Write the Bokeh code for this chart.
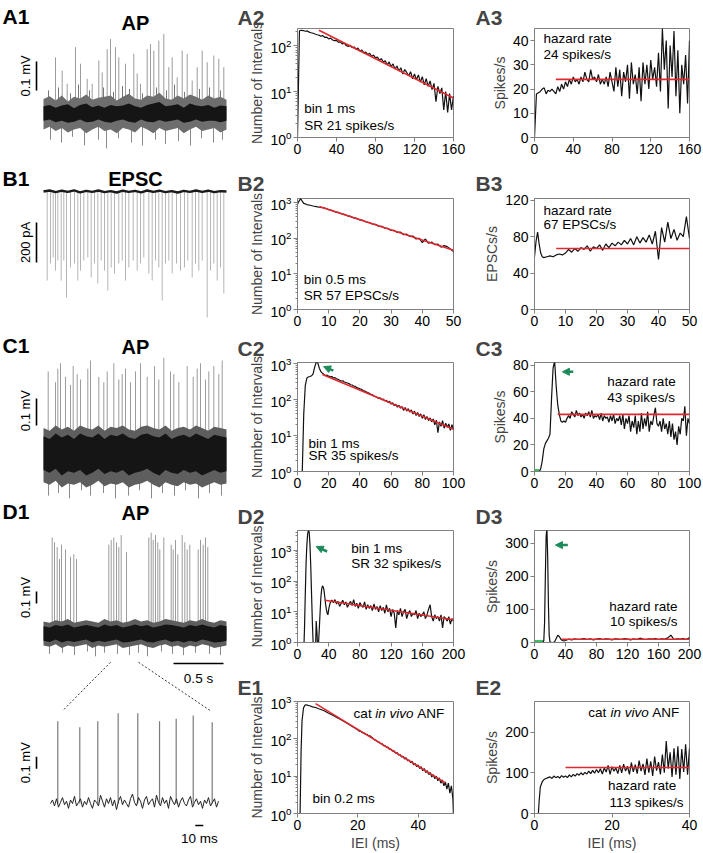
import numpy as np
from bokeh.plotting import figure
from bokeh.layouts import row, column
from bokeh.models import Range1d, Label, Arrow, NormalHead, FixedTicker
from bokeh.embed import file_html
from bokeh.resources import INLINE

FONT = "Liberation Sans"
INK = "#111111"
AXIS_GRAY = "#808080"
RED = "#e0282e"
GREEN = "#1d8a5b"
LIGHT_GREEN = "#3cc062"
SPIKE_GRAY = "#9c9c9c"

# ====================== DATA ======================
# --- A1 (AP trace, time s, mV) ---
A1_SPIKE_T = [0.12,0.187,0.237,0.32,0.37,0.437,0.487,0.553,0.587,0.637,0.67,0.72,0.753,0.82,0.903,0.937,0.97,1.037,1.07,1.103,1.153,1.203,1.253,1.287,1.337,1.387,1.437,1.487,1.537,1.587,1.637,1.703,1.753,1.803]
A1_SPIKE_V = [0.194,0.148,0.103,0.229,0.172,0.12,0.103,0.183,0.142,0.222,0.257,0.229,0.194,0.172,0.206,0.138,0.103,0.222,0.24,0.217,0.252,0.275,0.16,0.194,0.125,0.217,0.206,0.114,0.16,0.217,0.177,0.2,0.189,0.16]
A1_SMALL_T = [0.05,0.15,0.27,0.35,0.46,0.6,0.7,0.79,0.86,0.99,1.13,1.23,1.31,1.41,1.56,1.66,1.77]
A1_SMALL_V = [0.08,0.09,0.07,0.1,0.08,0.09,0.075,0.095,0.085,0.07,0.09,0.08,0.1,0.075,0.085,0.09,0.08]
A1_DOWN_T = [0.07,0.18,0.29,0.41,0.55,0.63,0.75,0.88,0.99,1.12,1.22,1.35,1.47,1.58,1.70,1.79]
A1_DOWN_V = [-0.09,-0.1,-0.08,-0.11,-0.09,-0.12,-0.085,-0.1,-0.11,-0.09,-0.105,-0.095,-0.11,-0.085,-0.1,-0.09]
A1_HI = [0.025,0.03,0.02,0.028,0.032,0.018,0.03,0.035,0.022,0.028,0.02,0.03,0.025,0.028,0.035,0.025,0.02,0.03,0.035,0.04,0.025,0.028,0.032,0.02,0.035,0.028,0.025,0.03,0.02,0.028,0.025]
A1_LO = [-0.025,-0.02,-0.03,-0.025,-0.032,-0.028,-0.02,-0.03,-0.028,-0.02,-0.028,-0.032,-0.025,-0.02,-0.028,-0.032,-0.02,-0.028,-0.03,-0.022,-0.028,-0.025,-0.02,-0.032,-0.028,-0.02,-0.028,-0.025,-0.025,-0.03,-0.025]
A1_OUT_HI = [0.05,0.06,0.045,0.062,0.042,0.058,0.052,0.066,0.048,0.055,0.058,0.062,0.045,0.058,0.068,0.052,0.048,0.062,0.058,0.072,0.052,0.048,0.062,0.052,0.066,0.058,0.048,0.062,0.052,0.058,0.048]
A1_OUT_LO = [-0.055,-0.045,-0.06,-0.05,-0.065,-0.055,-0.05,-0.068,-0.055,-0.045,-0.06,-0.055,-0.068,-0.05,-0.055,-0.065,-0.045,-0.055,-0.068,-0.05,-0.06,-0.055,-0.05,-0.068,-0.055,-0.045,-0.06,-0.055,-0.05,-0.065,-0.055]

# --- B1 (EPSC trace, pA) ---
B1_SPIKE_T = [0.037,0.07,0.097,0.12,0.143,0.177,0.203,0.23,0.27,0.31,0.343,0.37,0.403,0.443,0.477,0.51,0.543,0.577,0.61,0.643,0.677,0.71,0.753,0.787,0.82,0.853,0.897,0.937,0.97,1.003,1.053,1.087,1.12,1.153,1.187,1.22,1.253,1.287,1.33,1.37,1.41,1.443,1.487,1.52,1.553,1.587,1.637,1.67,1.703,1.737,1.77,1.803]
B1_SPIKE_V = [-445,-360,-330,-395,-345,-445,-345,-530,-380,-360,-445,-395,-345,-330,-430,-360,-460,-345,-395,-495,-380,-410,-360,-345,-445,-380,-345,-395,-360,-330,-410,-445,-345,-380,-545,-360,-345,-410,-360,-395,-380,-345,-430,-360,-395,-345,-630,-395,-360,-445,-380,-510]
B1_BASE = [0,5,-3,4,-2,6,-4,3,-2,5,-3,2,-5,4,-2,3,-4,5,-2,4,-3,2,-5,3,-2,5,-2,4,-3,2,0]

# --- C1 (AP trace, mV) ---
C1_SPIKE_T = [0.047,0.12,0.143,0.17,0.22,0.27,0.297,0.337,0.37,0.443,0.47,0.553,0.603,0.637,0.703,0.753,0.787,0.82,0.87,0.92,0.97,1.037,1.11,1.153,1.203,1.27,1.303,1.353,1.437,1.497,1.537,1.57,1.62,1.653,1.703,1.753,1.787]
C1_SPIKE_V = [0.30,0.26,0.31,0.33,0.28,0.25,0.32,0.29,0.27,0.31,0.34,0.28,0.26,0.30,0.33,0.27,0.29,0.31,0.26,0.30,0.33,0.28,0.32,0.27,0.35,0.30,0.29,0.26,0.32,0.28,0.31,0.33,0.27,0.30,0.32,0.29,0.34]
C1_DOWN_T = [0.05,0.15,0.26,0.38,0.47,0.6,0.72,0.85,0.96,1.08,1.19,1.31,1.42,1.55,1.66,1.78]
C1_DOWN_V = [-0.16,-0.15,-0.17,-0.14,-0.16,-0.15,-0.17,-0.16,-0.14,-0.17,-0.15,-0.16,-0.14,-0.17,-0.15,-0.16]
C1_HI = [0.06,0.05,0.07,0.055,0.065,0.05,0.07,0.06,0.055,0.07,0.05,0.065,0.06,0.07,0.055,0.05,0.065,0.07,0.06,0.055,0.07,0.05,0.06,0.065,0.055,0.07,0.06,0.05,0.065,0.06,0.055]
C1_LO = [-0.065,-0.075,-0.06,-0.085,-0.07,-0.075,-0.065,-0.085,-0.075,-0.06,-0.08,-0.07,-0.075,-0.065,-0.085,-0.075,-0.07,-0.06,-0.075,-0.085,-0.065,-0.075,-0.08,-0.065,-0.075,-0.07,-0.085,-0.075,-0.065,-0.075,-0.07]
C1_OUT_HI = [0.09,0.08,0.1,0.085,0.095,0.08,0.1,0.09,0.085,0.1,0.08,0.095,0.09,0.1,0.085,0.08,0.095,0.1,0.09,0.085,0.1,0.08,0.09,0.095,0.085,0.1,0.09,0.08,0.095,0.09,0.085]
C1_OUT_LO = [-0.11,-0.12,-0.105,-0.13,-0.115,-0.12,-0.11,-0.13,-0.12,-0.105,-0.125,-0.115,-0.12,-0.11,-0.13,-0.12,-0.115,-0.105,-0.12,-0.13,-0.11,-0.12,-0.125,-0.11,-0.12,-0.115,-0.13,-0.12,-0.11,-0.12,-0.115]

# --- D1 (AP trace with bursts, mV) ---
D1_SPIKE_T = [0.087,0.11,0.137,0.16,0.18,0.22,0.27,0.303,0.33,
              0.653,0.677,0.703,0.73,0.753,0.777,0.83,
              1.053,1.077,1.097,1.12,1.143,1.163,1.203,1.277,1.297,1.32,1.343,1.387,1.413,1.437,1.463,
              1.547,1.57,1.597,1.62,1.643]
D1_SPIKE_V = [0.80,0.76,0.72,0.62,0.74,0.70,0.64,0.66,0.62,
              0.74,0.78,0.80,0.76,0.72,0.82,0.68,
              0.80,0.84,0.78,0.82,0.76,0.70,0.80,0.74,0.70,0.78,0.66,0.82,0.76,0.70,0.74,
              0.70,0.78,0.74,0.80,0.72]
D1_DOWN_T = [0.06,0.19,0.31,0.44,0.52,0.61,0.74,0.86,0.95,1.04,1.18,1.29,1.40,1.52,1.66,1.77]
D1_DOWN_V = [-0.17,-0.16,-0.18,-0.15,-0.19,-0.16,-0.17,-0.18,-0.16,-0.19,-0.15,-0.17,-0.18,-0.16,-0.17,-0.18]
D1_HI = [0.06,0.05,0.07,0.06,0.075,0.05,0.06,0.07,0.06,0.05,0.075,0.06,0.07,0.05,0.06,0.075,0.06,0.07,0.05,0.06,0.075,0.07,0.06,0.05,0.07,0.06,0.075,0.06,0.05,0.07,0.06]
D1_LO = [-0.06,-0.07,-0.05,-0.075,-0.06,-0.07,-0.06,-0.05,-0.075,-0.06,-0.07,-0.06,-0.05,-0.075,-0.07,-0.06,-0.05,-0.07,-0.075,-0.06,-0.05,-0.07,-0.06,-0.075,-0.06,-0.07,-0.05,-0.06,-0.075,-0.07,-0.06]
D1_OUT_HI = [0.1,0.09,0.11,0.1,0.12,0.09,0.1,0.11,0.1,0.09,0.12,0.1,0.11,0.09,0.1,0.12,0.1,0.11,0.09,0.1,0.12,0.11,0.1,0.09,0.11,0.1,0.12,0.1,0.09,0.11,0.1]
D1_OUT_LO = [-0.1,-0.11,-0.09,-0.12,-0.1,-0.11,-0.1,-0.09,-0.12,-0.1,-0.11,-0.1,-0.09,-0.12,-0.11,-0.1,-0.09,-0.11,-0.12,-0.1,-0.09,-0.11,-0.1,-0.12,-0.1,-0.11,-0.09,-0.1,-0.12,-0.11,-0.1]
ZOOM_WIN_S = [0.67, 0.95]          # stretch of D1 shown expanded below
# expanded trace (ms, mV)
ZOOM_NOISE = [0.00,0.03,-0.02,0.04,-0.03,0.01,0.05,-0.01,0.02,-0.04,
              0.03,0.00,0.06,-0.02,0.01,0.04,-0.03,0.02,-0.01,0.05,
              0.00,-0.04,0.03,0.01,-0.02,0.07,0.02,-0.03,0.04,0.00,
              0.05,-0.02,0.03,-0.05,0.02,0.06,-0.01,0.03,0.00,-0.03,
              0.04,0.08,0.01,-0.02,0.05,0.02,-0.04,0.03,0.06,-0.01,
              0.02,0.04,-0.03,0.07,0.01,-0.02,0.05,0.00,0.03,-0.04,
              0.06,0.02,-0.01,0.04,-0.03,0.02,0.05,0.00,-0.02,0.03,
              0.06,-0.03,0.01,0.04,-0.01,0.02,-0.04,0.03,0.00,0.05,
              -0.02,0.01,0.04,-0.03,0.02]
ZOOM_SPAN_MS = 210
ZOOM_SPIKE_MS = [9.1,36.6,59.1,84.6,109.1,136.3,157.1,178.4,202.1]
ZOOM_SPIKE_V = [0.686,0.636,0.686,0.753,0.753,0.686,0.706,0.733,0.678]

# --- A2: ISI histogram (bin 1 ms) ---
A2_Y = [1,210,215,212,205,208,196,190,185,178,172,168,160,165,150,152,140,145,132,128,130,118,120,108,112,100,95,102,90,93,84,88,76,80,70,72,64,68,58,62,54,56,48,52,44,47,38,44,35,40,31,36,28,33,24,30,26,22,27,19,24,18,23,16,21,14,19,13,17,11,15,6,13,9,12,4,10,3.5,9,4,8]
A2_FIT_X = [22, 160]; A2_FIT_Y = [215, 7.2]
# --- A3: hazard ---
A3_Y = [0,18,18.5,19,20,20.5,18,19.5,19,20,19,18,21,19,22,20,23,21,24,22,25,23,24,22,25,23,27,24,23,28,24,25,23,26,22,24,22,25,21,27,23,19,29,21,28,17,27,23,30,16,31,22,26,18,29,15,31,22,30,20,32,24,29,21,35,19,45,28,40,12,38,25,44,17,36,10,30,22,34,14,40]
A3_RATE = 24; A3_FIT_X = [22, 160]

# --- B2 ---
B2_X = [0,0.5,1,1.5,2,3,4,5,6,7] + list(range(8, 51))
B2_Y = [900,1100,1300,1100,950,880,840,800,770,740,
        720,690,630,605,550,530,485,465,425,410,370,360,325,315,285,275,250,245,215,215,190,188,165,165,145,148,125,130,112,115,95,100,75,95,72,78,66,68,56,62,58,50,42]
B2_FIT_X = [7, 50]; B2_FIT_Y = [770, 46]
# --- B3 ---
B3_X = [0,0.5,1,1.5,2,2.5,3] + list(range(4, 51))
B3_Y = [58,75,85,72,62,58,57,
        58,59,58,60,61,60,62,66,63,67,64,68,66,70,64,69,67,71,65,72,68,73,70,74,71,76,72,78,71,80,73,79,74,82,72,86,55,90,74,96,78,88,76,84,80,102,78]
B3_RATE = 67; B3_FIT_X = [7, 50]

# --- C2 ---
C2_Y = [0.5,0.5,0.5,0.8,40,250,400,430,440,460,520,800,1100,1050,750,600,540,500,470,480,450,430,440,400,410,380,370,345,330,335,310,300,290,280,260,255,240,235,215,210,200,195,180,175,165,158,150,140,138,125,122,
        115,108,112,100,104,92,96,84,90,75,82,68,74,62,70,58,64,50,60,48,56,45,52,40,48,36,44,34,40,30,38,28,34,26,31,24,29,20,27,12,24,18,26,16,22,17,21,14,20,15]
C2_FIT_X = [16, 100]; C2_FIT_Y = [500, 15]
C2_ARROW = [23, 645, 16.7, 830]
# --- C3 ---
C3_Y = [0,0,0,0,2,8,17,21,23,25,28,55,78,83,64,50,43,38,37,38,37,
        40,42,40,45,43,41,46,42,44,41,43,40,44,42,45,41,46,40,42,41,43,39,44,38,42,40,41,37,42,38,43,36,40,38,42,35,43,32,40,36,42,30,38,33,42,28,38,30,44,32,40,34,45,30,38,35,42,48,36,34,38,30,40,32,36,28,38,26,36,24,30,20,34,28,40,38,49,27,40,36]
C3_RATE = 43; C3_FIT_X = [15, 100]
C3_ARROW = [25, 75, 18, 75]
C3_REFRACT = [0, 3]

# --- D2 ---
D2_X = list(range(0, 44)) + list(range(44, 201, 2))
D2_Y = [0.5,0.5,0.5,0.5,0.5,0.5,0.5,0.5,0.5,3,40,400,1500,3500,4500,4000,1500,300,40,5,1,0.5,0.5,0.5,5,2,0.5,1,3,10,30,55,70,65,50,30,18,12,9,8,12,16,20,22,
        24,20,25,18,22,15,19,24,17,21,14,18,22,16,25,15,19,13,20,16,14,21,12,17,13,16,11,18,12,15,10,16,11,14,9,17,10,13,7,12,9,3,11,8,13,7,10,12,6,9,11,7,9,8,11,6,9,7,8,10,6,8,12,17,7,5,8,6,7,5,8,3,7,6,5,7,4,6,5]
D2_FIT_X = [35, 200]; D2_FIT_Y = [24, 5.5]
D2_ARROW = [38, 930, 24, 1350]
# --- D3 ---
D3_X = [0,2,4,6,8,10,11,12,13,14,15,16,17,18,19,20,22,24,26,28,30,32,34,36,38,40] + list(range(44, 201, 4))
D3_Y = [0,0,0,0,0,0,0,5,60,200,320,345,260,110,20,2,0,0,2,12,22,18,10,6,5,6,
        10,8,11,9,10,12,9,11,8,10,12,9,11,10,8,11,10,9,12,10,8,11,9,13,10,9,11,10,12,9,11,10,14,22,9,11,10,12,9,15]
D3_RATE = 10; D3_FIT_X = [35, 200]
D3_ARROW = [43, 294, 27, 294]
D3_REFRACT = [0, 12]

# --- E1 (cat in vivo ANF, bin 0.2 ms) ---
E1_X_HEAD = [0.8,1.2,1.5,2,2.5,3,3.5,4,5,6,7,8,9,10,11,12,13,14,15,16,17,18,19,20]
E1_Y_HEAD = [0.5,50,300,680,800,820,790,770,720,690,640,600,555,500,455,415,375,340,305,275,245,218,195,172]
E1_Y_TAIL = [160,158,146,145,133,132,122,121,112,104,94,92,84,82,74,74,66,66,59,60,52,53,47,48,41,43,37,38,33,34,29,31,26,27,23,25,20,22,18,20,16,18,14,16,12.5,14,11,12.5,9.5,11,8.5,10,7.5,9,6.5,8,5.5,7,4.5,6.5,3.5,5.5,2.5]
E1_FIT_X = [6, 49]; E1_FIT_Y = [875, 6.6]
# --- E2 ---
E2_X_HEAD = [0,0.5,1,1.2,1.5,2]
E2_Y_HEAD = [0,0,0,30,65,78]
E2_Y_TAIL = [84,86,88,90,86,92,88,91,87,93,89,92,88,95,90,96,92,98,94,100,95,101,97,104,98,106,99,108,100,110,97,112,102,118,96,115,104,112,98,118,100,121,104,116,96,125,102,120,98,130,104,122,95,135,100,128,92,140,105,126,96,145,100,178,110,150,90,160,95,165,85,158,102,170,95,160]
E2_RATE = 113; E2_FIT_X = [8, 40]

# ====================== LAYOUT ======================
C1W, C2W, C3W = 230, 240, 233
ROW_H = [165, 167, 168, 170, 183]
ROW_TOP = [28, 32, 29, 29, 30]
ROW_BOT = [28, 23, 29, 28, 40]
TAG_STANDOFF = [0, 8, 5, 5, 6]
C2_LR = (67, 17)
C3_LR = (64, 14)
TR_X = (-0.43, 1.87)


def label(p, x, y, text, size="13.5px", align="left", baseline="middle", style="normal",
          angle=0.0, color="black", **kw):
    p.add_layout(Label(x=x, y=y, text=text, text_font=FONT, text_font_size=size,
                       text_align=align, text_baseline=baseline, text_font_style=style,
                       angle=angle, text_color=color, **kw))


def hist_fig(ri, col, xr, yr, xticks, yticks, log, ylabel, tag, xlabel=None):
    l, r = C2_LR if col == 2 else C3_LR
    w = C2W if col == 2 else C3W
    h, t, b = ROW_H[ri], ROW_TOP[ri], ROW_BOT[ri]
    p = figure(width=w, height=h, x_range=Range1d(*xr), y_range=Range1d(*yr),
               y_axis_type="log" if log else "linear", toolbar_location=None,
               output_backend="svg", min_border_left=l, min_border_right=r,
               min_border_top=t, min_border_bottom=b, title=tag)
    p.title.align = "left"
    p.title.offset = -60 if col == 2 else -59
    p.title.text_font = FONT
    p.title.text_font_size = "21px"
    p.title.text_font_style = "bold"
    p.title.standoff = TAG_STANDOFF[ri]
    p.grid.visible = False
    p.outline_line_color = AXIS_GRAY
    p.xaxis.ticker = FixedTicker(ticks=xticks, minor_ticks=[])
    if log:
        minors = [m * d for d in yticks for m in range(2, 10)]
        p.yaxis.ticker = FixedTicker(ticks=yticks, minor_ticks=minors)
    else:
        p.yaxis.ticker = FixedTicker(ticks=yticks, minor_ticks=[])
    for ax in p.axis:
        ax.axis_line_color = AXIS_GRAY
        ax.major_tick_line_color = AXIS_GRAY
        ax.minor_tick_line_color = AXIS_GRAY
        ax.major_tick_in = 0
        ax.major_tick_out = 4
        ax.minor_tick_in = 0
        ax.minor_tick_out = 2
        ax.major_label_text_font = FONT
        ax.major_label_text_font_size = "14px"
        ax.major_label_text_color = "black"
        ax.major_label_standoff = 2
        ax.axis_label_text_font = FONT
        ax.axis_label_text_font_size = "14px"
        ax.axis_label_text_font_style = "normal"
        ax.axis_label_standoff = 2
    p.yaxis.axis_label = ylabel
    if xlabel:
        p.xaxis.axis_label = xlabel
    return p


def black(p, x, y):
    p.line(x, y, line_color=INK, line_width=1.2)


def red(p, x, y):
    p.line(x, y, line_color=RED, line_width=1.6)


def arrow(p, a):
    p.add_layout(Arrow(x_start=a[0], y_start=a[1], x_end=a[2], y_end=a[3],
                       line_color=GREEN, line_width=2.5,
                       end=NormalHead(size=7, fill_color=GREEN, line_color=GREEN)))


def trace_fig(h, yr):
    p = figure(width=C1W, height=h, x_range=Range1d(*TR_X), y_range=Range1d(*yr),
               x_axis_type=None, y_axis_type=None, toolbar_location=None,
               output_backend="svg", min_border=0)
    p.outline_line_color = None
    return p


def noise_band(p, hi, lo, color):
    t = np.linspace(0, 1.83, len(hi))
    p.varea(x=t, y1=lo, y2=hi, fill_color=color)


def spikes(p, t, v, color=SPIKE_GRAY, width=1.0, **kw):
    p.segment(x0=t, y0=[0] * len(t), x1=t, y1=v, line_color=color, line_width=width, **kw)


def vbar_scale(p, x, y0, length, **kw):
    p.segment(x0=[x], y0=[y0], x1=[x], y1=[y0 + length], line_color="black", line_width=1.6, **kw)


# ---------- column 1 ----------
a1 = trace_fig(ROW_H[0], (-0.179, 0.390))
spikes(a1, A1_SPIKE_T, A1_SPIKE_V)
spikes(a1, A1_SMALL_T, A1_SMALL_V, color="#777777")
spikes(a1, A1_DOWN_T, A1_DOWN_V, color="#8a8a8a")
noise_band(a1, A1_OUT_HI, A1_OUT_LO, "#6e6e6e")
noise_band(a1, A1_HI, A1_LO, "#151515")
vbar_scale(a1, -0.07, 0.08, 0.1)
label(a1, -0.18, 0.13, "0.1 mV", size="13px", align="center", angle=np.pi / 2)
label(a1, -0.41, 0.334, "A1", size="21px", style="bold")
label(a1, 0.92, 0.314, "AP", size="20px", style="bold", align="center")

b1 = trace_fig(ROW_H[1], (-705, 130))
spikes(b1, B1_SPIKE_T, B1_SPIKE_V, color="#b5b5b5")
b1.line(np.linspace(0, 1.83, len(B1_BASE)), B1_BASE, line_color="#1a1a1a", line_width=2.4)
vbar_scale(b1, -0.07, -355, 200)
label(b1, -0.18, -255, "200 pA", size="13px", align="center", angle=np.pi / 2)
label(b1, -0.41, 65, "B1", size="21px", style="bold")
label(b1, 0.92, 65, "EPSC", size="20px", style="bold", align="center")

c1 = trace_fig(ROW_H[2], (-0.178, 0.444))
spikes(c1, C1_SPIKE_T, C1_SPIKE_V)
spikes(c1, C1_DOWN_T, C1_DOWN_V, color="#8a8a8a")
noise_band(c1, C1_OUT_HI, C1_OUT_LO, "#5e5e5e")
noise_band(c1, C1_HI, C1_LO, "#151515")
vbar_scale(c1, -0.07, 0.1, 0.1)
label(c1, -0.18, 0.155, "0.1 mV", size="13px", align="center", angle=np.pi / 2)
label(c1, -0.41, 0.395, "C1", size="21px", style="bold")
label(c1, 0.92, 0.392, "AP", size="20px", style="bold", align="center")

D1_YR = (-1.833, 1.108)
ZXR = (-62.5, 225.0)
ZYR = (-0.416, 2.525)
d1 = trace_fig(ROW_H[3] + ROW_H[4], D1_YR)
d1.extra_x_ranges = {"zx": Range1d(*ZXR)}
d1.extra_y_ranges = {"zy": Range1d(*ZYR)}
spikes(d1, D1_SPIKE_T, D1_SPIKE_V)
spikes(d1, D1_DOWN_T, D1_DOWN_V, color="#8a8a8a")
noise_band(d1, D1_OUT_HI, D1_OUT_LO, "#5e5e5e")
noise_band(d1, D1_HI, D1_LO, "#151515")
vbar_scale(d1, -0.07, 0.25, 0.1)
label(d1, -0.18, 0.30, "0.1 mV", size="13px", align="center", angle=np.pi / 2)
label(d1, -0.41, 1.017, "D1", size="21px", style="bold")
label(d1, 0.92, 1.008, "AP", size="20px", style="bold", align="center")
# 0.5 s time bar
d1.segment(x0=[1.30], y0=[-0.25], x1=[1.80], y1=[-0.25], line_color="black", line_width=1.6)
label(d1, 1.55, -0.375, "0.5 s", size="13.5px", align="center")
# expanded trace
zt = np.linspace(0, ZOOM_SPAN_MS, len(ZOOM_NOISE))
d1.segment(x0=ZOOM_SPIKE_MS, y0=[0] * len(ZOOM_SPIKE_MS), x1=ZOOM_SPIKE_MS, y1=ZOOM_SPIKE_V,
           line_color="#7a7a7a", line_width=1.2, x_range_name="zx", y_range_name="zy")
d1.line(zt, ZOOM_NOISE, line_color="#222222", line_width=1.0, x_range_name="zx", y_range_name="zy")
d1.segment(x0=[-17.5], y0=[0.29], x1=[-17.5], y1=[0.39], line_color="black", line_width=1.6,
           x_range_name="zx", y_range_name="zy")
label(d1, -31, 0.34, "0.1 mV", size="13px", align="center", angle=np.pi / 2,
      x_range_name="zx", y_range_name="zy")
d1.segment(x0=[181], y0=[-0.183], x1=[191], y1=[-0.183], line_color="black", line_width=1.6,
           x_range_name="zx", y_range_name="zy")
label(d1, 186, -0.29, "10 ms", size="13.5px", align="center", x_range_name="zx", y_range_name="zy")


# dotted connectors: from the window in D1 to the ends of the expanded trace
def zx_to_x(ms):
    return TR_X[0] + (ms - ZXR[0]) / (ZXR[1] - ZXR[0]) * (TR_X[1] - TR_X[0])


def zy_to_y(v):
    return D1_YR[0] + (v - ZYR[0]) / (ZYR[1] - ZYR[0]) * (D1_YR[1] - D1_YR[0])


top_y = min(D1_OUT_LO) - 0.12
zoom_top = max(ZOOM_SPIKE_V) + 0.02
ends_ms = [ZOOM_SPIKE_MS[0] + 6, ZOOM_SPIKE_MS[-1] - 2]
d1.segment(x0=ZOOM_WIN_S, y0=[top_y, top_y], x1=[zx_to_x(m) for m in ends_ms],
           y1=[zy_to_y(zoom_top)] * 2, line_color="#333333", line_width=1, line_dash="2 2")

# ---------- column 2 ----------
a2 = hist_fig(0, 2, (0, 160), (1, 235), [0, 40, 80, 120, 160], [1, 10, 100], True,
              "Number of Intervals", "A2")
black(a2, np.linspace(0, 160, len(A2_Y)), A2_Y)
red(a2, A2_FIT_X, A2_FIT_Y)
label(a2, 7, 4.3, "bin 1 ms")
label(a2, 7, 1.8, "SR 21 spikes/s")

b2 = hist_fig(1, 2, (0, 50), (1, 1300), [0, 10, 20, 30, 40, 50], [1, 10, 100, 1000], True,
              "Number of Intervals", "B2")
black(b2, B2_X, B2_Y)
red(b2, B2_FIT_X, B2_FIT_Y)
label(b2, 2, 6.8, "bin 0.5 ms")
label(b2, 2, 2.45, "SR 57 EPSCs/s")

c2 = hist_fig(2, 2, (0, 100), (1, 1080), [0, 20, 40, 60, 80, 100], [1, 10, 100, 1000], True,
              "Number of Intervals", "C2")
black(c2, np.arange(len(C2_Y)), C2_Y)
red(c2, C2_FIT_X, C2_FIT_Y)
arrow(c2, C2_ARROW)
label(c2, 7, 6.2, "bin 1 ms")
label(c2, 7, 2.8, "SR 35 spikes/s")

d2 = hist_fig(3, 2, (0, 200), (1, 4500), [0, 40, 80, 120, 160, 200], [1, 10, 100, 1000], True,
              "Number of Intervals", "D2")
black(d2, D2_X, D2_Y)
red(d2, D2_FIT_X, D2_FIT_Y)
arrow(d2, D2_ARROW)
label(d2, 69, 1160, "bin 1 ms")
label(d2, 69, 380, "SR 32 spikes/s")

e1 = hist_fig(4, 2, (0, 51.7), (1, 1000), [0, 20, 40], [1, 10, 100, 1000], True,
              "Number of Intervals", "E1", xlabel="IEI (ms)")
e1x = E1_X_HEAD + list(np.linspace(20.5, 51.5, len(E1_Y_TAIL))) + [51.8]
black(e1, e1x, E1_Y_HEAD + E1_Y_TAIL + [0.5])
red(e1, E1_FIT_X, E1_FIT_Y)
label(e1, 18.6, 480, "cat")
label(e1, 25.8, 480, "in vivo", style="italic")
label(e1, 39.7, 480, "ANF")
label(e1, 5, 2.5, "bin 0.2 ms")

# ---------- column 3 ----------
a3 = hist_fig(0, 3, (0, 160), (0, 45), [0, 40, 80, 120, 160], [0, 10, 20, 30, 40], False,
              "Spikes/s", "A3")
black(a3, np.linspace(0, 160, len(A3_Y)), A3_Y)
red(a3, A3_FIT_X, [A3_RATE] * 2)
label(a3, 9.3, 40.8, "hazard rate")
label(a3, 9.3, 34.3, "24 spikes/s")

b3 = hist_fig(1, 3, (0, 50), (0, 122), [0, 10, 20, 30, 40, 50], [0, 40, 80, 120], False,
              "EPSCs/s", "B3")
black(b3, B3_X, B3_Y)
red(b3, B3_FIT_X, [B3_RATE] * 2)
label(b3, 2.9, 109, "hazard rate")
label(b3, 2.9, 93, "67 EPSCs/s")

c3 = hist_fig(2, 3, (0, 100), (0, 82), [0, 20, 40, 60, 80, 100], [0, 20, 40, 60, 80], False,
              "Spikes/s", "C3")
c3.segment(x0=[C3_REFRACT[0]], y0=[0], x1=[C3_REFRACT[1]], y1=[0], line_color=LIGHT_GREEN, line_width=5)
black(c3, np.arange(len(C3_Y)), C3_Y)
red(c3, C3_FIT_X, [C3_RATE] * 2)
arrow(c3, C3_ARROW)
label(c3, 47, 68, "hazard rate")
label(c3, 47, 55.5, "43 spikes/s")

d3 = hist_fig(3, 3, (0, 200), (0, 338), [0, 40, 80, 120, 160, 200], [0, 100, 200, 300], False,
              "Spikes/s", "D3")
d3.segment(x0=[D3_REFRACT[0]], y0=[0], x1=[D3_REFRACT[1]], y1=[0], line_color=LIGHT_GREEN, line_width=5)
black(d3, D3_X, D3_Y)
red(d3, D3_FIT_X, [D3_RATE] * 2)
arrow(d3, D3_ARROW)
label(d3, 184.5, 110, "hazard rate", align="right")
label(d3, 184.5, 62, "10 spikes/s", align="right")

e2 = hist_fig(4, 3, (0, 40), (0, 275), [0, 20, 40], [0, 100, 200], False,
              "Spikes/s", "E2", xlabel="IEI (ms)")
e2x = E2_X_HEAD + list(np.linspace(2.5, 40, len(E2_Y_TAIL)))
black(e2, e2x, E2_Y_HEAD + E2_Y_TAIL)
red(e2, E2_FIT_X, [E2_RATE] * 2)
label(e2, 13.9, 248, "cat")
label(e2, 19.6, 248, "in vivo", style="italic")
label(e2, 30.4, 248, "ANF")
label(e2, 36.6, 69, "hazard rate", align="right")
label(e2, 38.45, 27, "113 spikes/s", align="right")

layout = row(column(a1, b1, c1, d1),
             column(a2, b2, c2, d2, e1),
             column(a3, b3, c3, d3, e2))

with open("out.html", "w") as f:
    f.write(file_html(layout, INLINE))
